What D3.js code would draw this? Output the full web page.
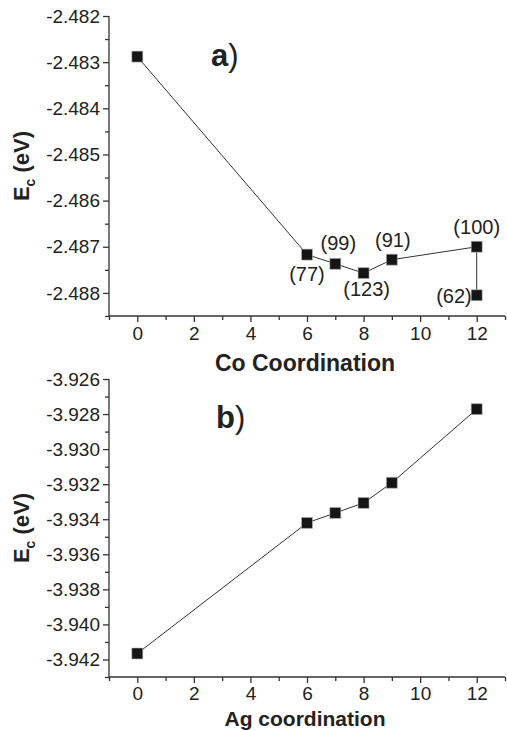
<!DOCTYPE html>
<html>
<head>
<meta charset="utf-8">
<script src="https://cdn.jsdelivr.net/npm/d3@7"></script>
<style>
  body { margin: 0; background: #fff; }
  text { font-family: "Liberation Sans", Arial, sans-serif; fill: #222; }
</style>
</head>
<body>
<div class="canva"></div>
<script>
// data
const coCoord = [0, 6, 7, 8, 9, 12, 12];
const coEnergy = [-2.48288, -2.48717, -2.48737, -2.48757, -2.48728, -2.48700, -2.48805];
const coLabels = ["", "(77)", "(99)", "(123)", "(91)", "(100)", "(62)"];

const agCoord = [0, 6, 7, 8, 9, 12];
const agEnergy = [-3.94166, -3.93421, -3.93364, -3.93307, -3.93192, -3.92772];

const xTicks = [0, 2, 4, 6, 8, 10, 12];
const xMinor = [-1, 1, 3, 5, 7, 9, 11, 13];
const coTicks = [-2.482, -2.483, -2.484, -2.485, -2.486, -2.487, -2.488];
const coMinor = [-2.4825, -2.4835, -2.4845, -2.4855, -2.4865, -2.4875, -2.4885];
const agTicks = [-3.926, -3.928, -3.930, -3.932, -3.934, -3.936, -3.938, -3.940, -3.942];
const agMinor = [-3.927, -3.929, -3.931, -3.933, -3.935, -3.937, -3.939, -3.941, -3.943];

// label offsets from their point (dx, dy, anchor)
const labelPlace = [null, [0, 26, "middle"], [3, -14, "middle"], [3, 23, "middle"],
                    [1, -13, "middle"], [0, -13, "middle"], [-5, 8, "end"]];

const svg = d3.select(".canva").append("svg")
  .attr("width", 507)
  .attr("height", 731);

const x = d3.scaleLinear().domain([-1, 13]).range([109, 505]);
const fmt = d => d3.format(".3f")(d).replace("\u2212", "-");

function panel(opts) {
  const y = d3.scaleLinear().domain(opts.domain).range([opts.bottom, opts.top]);
  const g = svg.append("g");

  // x axis
  const xa = g.append("g").attr("transform", `translate(0,${opts.bottom})`)
    .call(d3.axisBottom(x).tickValues(xTicks).tickSize(6).tickPadding(opts.xPad).tickFormat(d3.format("d")));
  g.append("g").attr("transform", `translate(0,${opts.bottom})`)
    .call(d3.axisBottom(x).tickValues(xMinor).tickSize(4).tickFormat(""))
    .select(".domain").remove();

  // y axis
  const ya = g.append("g").attr("transform", "translate(109,0)")
    .call(d3.axisLeft(y).tickValues(opts.ticks).tickSize(6).tickPadding(3).tickFormat(fmt));
  g.append("g").attr("transform", "translate(109,0)")
    .call(d3.axisLeft(y).tickValues(opts.minor).tickSize(4).tickFormat(""))
    .select(".domain").remove();

  g.selectAll(".domain, .tick line").attr("stroke", "#333").attr("stroke-width", 1.3);
  g.selectAll(".tick text").attr("font-size", 19).attr("fill", "#222")
    .attr("font-family", "Liberation Sans, Arial, sans-serif");
  xa.select(".domain").attr("d", `M${x.range()[0]},0H${x.range()[1]}`);
  ya.select(".domain").attr("d", `M0,${opts.top}V${opts.bottom}`);

  // line + squares
  const pts = opts.xs.map((v, i) => [x(v), y(opts.ys[i])]);
  g.append("path")
    .attr("d", d3.line()(pts))
    .attr("fill", "none")
    .attr("stroke", "#333")
    .attr("stroke-width", 1);
  g.selectAll(".pt").data(pts).enter().append("path")
    .attr("transform", d => `translate(${d[0]},${d[1]})`)
    .attr("d", d3.symbol(d3.symbolSquare, 121)())
    .attr("fill", "#151515")
    .attr("stroke", "#bbb")
    .attr("stroke-width", 0.6);

  // axis titles
  g.append("text")
    .attr("x", 305).attr("y", opts.xTitleY)
    .attr("text-anchor", "middle")
    .attr("font-size", opts.xTitleSize).attr("font-weight", "bold")
    .text(opts.xTitle);

  const yt = g.append("text")
    .attr("transform", `translate(29,${(opts.top + opts.bottom) / 2}) rotate(-90)`)
    .attr("text-anchor", "middle")
    .attr("font-size", 22).attr("font-weight", "bold");
  yt.append("tspan").text("E");
  yt.append("tspan").attr("dy", 6).attr("font-size", 14).text("c");
  yt.append("tspan").attr("dy", -6).text(" (eV)");

  // panel letter
  const pl = g.append("text")
    .attr("x", opts.letterX).attr("y", opts.letterY)
    .attr("font-size", 31);
  pl.append("tspan").attr("font-weight", "bold").text(opts.letter);
  pl.append("tspan").text(")");

  return { g, y, pts };
}

const a = panel({
  domain: [-2.4885, -2.482], top: 16, bottom: 316,
  ticks: coTicks, minor: coMinor, xs: coCoord, ys: coEnergy,
  xPad: 5, xTitle: "Co Coordination", xTitleY: 371, xTitleSize: 23,
  letter: "a", letterX: 211, letterY: 66
});

const lbls = a.pts.map((p, i) => ({ p, text: coLabels[i], place: labelPlace[i] }))
  .filter(d => d.text !== "");

a.g.selectAll(".lbl").data(lbls).enter()
  .append("text")
  .attr("x", d => d.p[0] + d.place[0])
  .attr("y", d => d.p[1] + d.place[1])
  .attr("text-anchor", d => d.place[2])
  .attr("font-size", 20)
  .text(d => d.text);

panel({
  domain: [-3.943, -3.926], top: 379, bottom: 677,
  ticks: agTicks, minor: agMinor, xs: agCoord, ys: agEnergy,
  xPad: 4, xTitle: "Ag coordination", xTitleY: 726, xTitleSize: 21,
  letter: "b", letterX: 216, letterY: 428
});
</script>
</body>
</html>
